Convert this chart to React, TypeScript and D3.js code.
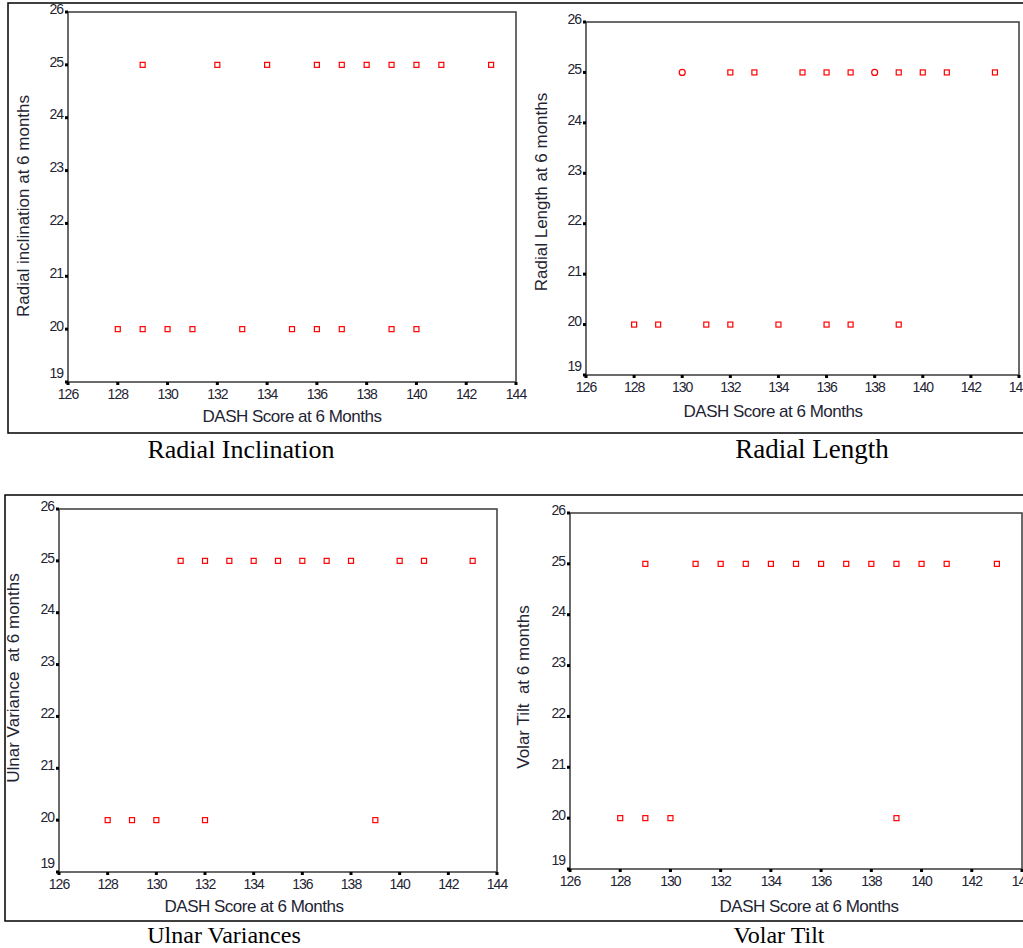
import React from "react";
import * as d3 from "d3";

// ---------- data ----------
const xTickValues = [126, 128, 130, 132, 134, 136, 138, 140, 142, 144];
const yTickValues = [19, 20, 21, 22, 23, 24, 25, 26];

const radialInclinationDash = [129, 132, 134, 136, 137, 138, 139, 140, 141, 143, 128, 129, 130, 131, 133, 135, 136, 137, 139, 140];
const radialInclinationValue = [25, 25, 25, 25, 25, 25, 25, 25, 25, 25, 20, 20, 20, 20, 20, 20, 20, 20, 20, 20];

const radialLengthDash = [130, 132, 133, 135, 136, 137, 138, 139, 140, 141, 143, 128, 129, 131, 132, 134, 136, 137, 139];
const radialLengthValue = [25, 25, 25, 25, 25, 25, 25, 25, 25, 25, 25, 20, 20, 20, 20, 20, 20, 20, 20];
const radialLengthShape = ["circle", "square", "square", "square", "square", "square", "circle", "square", "square", "square", "square", "square", "square", "square", "square", "square", "square", "square", "square"];

const ulnarVarianceDash = [131, 132, 133, 134, 135, 136, 137, 138, 140, 141, 143, 128, 129, 130, 132, 139];
const ulnarVarianceValue = [25, 25, 25, 25, 25, 25, 25, 25, 25, 25, 25, 20, 20, 20, 20, 20];

const volarTiltDash = [129, 131, 132, 133, 134, 135, 136, 137, 138, 139, 140, 141, 143, 128, 129, 130, 139];
const volarTiltValue = [25, 25, 25, 25, 25, 25, 25, 25, 25, 25, 25, 25, 25, 20, 20, 20, 20];

const xTitle = "DASH Score at 6 Months";
const yTitles = ["Radial inclination at 6 months", "Radial Length at 6 months", "Ulnar Variance  at 6 months", "Volar Tilt  at 6 months"];
const captions = ["Radial Inclination", "Radial Length", "Ulnar Variances", "Volar Tilt"];

// ---------- layout ----------
const panels = [
  { dash: radialInclinationDash, value: radialInclinationValue, shape: null as string[] | null,
    x0: 68, x1: 516, y0: 12, y1: 382, ytx: 25, yty: 206, xtx: 292, xty: 418,
    cap: { x: 241, y: 458, size: 26 } },
  { dash: radialLengthDash, value: radialLengthValue, shape: radialLengthShape,
    x0: 586, x1: 1019, y0: 22, y1: 375, ytx: 543, yty: 192, xtx: 773, xty: 413,
    cap: { x: 812, y: 458, size: 27 } },
  { dash: ulnarVarianceDash, value: ulnarVarianceValue, shape: null,
    x0: 59, x1: 497, y0: 509, y1: 872, ytx: 15, yty: 678, xtx: 254, xty: 908,
    cap: { x: 224, y: 943, size: 24 } },
  { dash: volarTiltDash, value: volarTiltValue, shape: null,
    x0: 570, x1: 1022, y0: 513, y1: 869, ytx: 525, yty: 687, xtx: 809, xty: 908,
    cap: { x: 779, y: 943, size: 24 } },
];

const AX = "#3a3a3a";
const TXT = "#1e2433";
const RED = "#ff0000";
const SANS = "Arial, 'Liberation Sans', sans-serif";
const SERIF = "'Times New Roman', 'Liberation Serif', serif";

function Panel({ p, i }: { p: typeof panels[number]; i: number }) {
  const x = d3.scaleLinear().domain([126, 144]).range([p.x0, p.x1]);
  const y = d3.scaleLinear().domain([19, 26]).range([p.y1, p.y0]);
  return (
    <g>
      <rect x={p.x0} y={p.y0} width={p.x1 - p.x0} height={p.y1 - p.y0} fill="none" stroke={AX} strokeWidth={1.5} />
      {yTickValues.map((t) => (
        <g key={"y" + t}>
          <rect x={p.x0 - 3} y={y(t) - 1.5} width={3} height={3} fill="#000" />
          <text x={p.x0 - 5} y={y(t) - (t === 19 ? 8 : 2)} textAnchor="end" dominantBaseline="middle"
            fontFamily={SANS} fontSize={14} letterSpacing={-1} fill={TXT}>{t}</text>
        </g>
      ))}
      {xTickValues.map((t) => (
        <g key={"x" + t}>
          <rect x={x(t) - 1.5} y={p.y1} width={3} height={3} fill="#000" />
          <text x={x(t)} y={p.y1 + 17} textAnchor="middle" fontFamily={SANS} fontSize={14} letterSpacing={-1} fill={TXT}>{t}</text>
        </g>
      ))}
      {p.dash.map((d, k) => {
        const cx = x(d), cy = y(p.value[k]);
        const shp = p.shape ? p.shape[k] : "square";
        return shp === "circle" ? (
          <circle key={k} cx={cx} cy={cy} r={3} fill="none" stroke={RED} strokeWidth={1.2} />
        ) : (
          <rect key={k} x={cx - 2.5} y={cy - 2.5} width={5} height={5} fill="none" stroke={RED} strokeWidth={1.2} />
        );
      })}
      <text x={p.xtx} y={p.xty} textAnchor="middle" dominantBaseline="middle" fontFamily={SANS} fontSize={17} letterSpacing={-0.5} fill={TXT}>{xTitle}</text>
      <text transform={`translate(${p.ytx},${p.yty}) rotate(-90)`} textAnchor="middle" dominantBaseline="middle"
        fontFamily={SANS} fontSize={17} letterSpacing={0} fill={TXT} style={{ whiteSpace: "pre" }}>{yTitles[i]}</text>
      <text x={p.cap.x} y={p.cap.y} textAnchor="middle" fontFamily={SERIF} fontSize={p.cap.size} fill="#000">{captions[i]}</text>
    </g>
  );
}

export default function App() {
  return (
    <svg width={1023} height={948} style={{ position: "absolute", left: 0, top: 0, background: "#fff" }}>
      <rect x={0} y={0} width={1023} height={948} fill="#fff" />
      <rect x={8} y={3} width={1040} height={430} fill="none" stroke="#000" strokeWidth={1.5} />
      <rect x={5} y={495} width={1040} height={426} fill="none" stroke="#000" strokeWidth={1.5} />
      {panels.map((p, i) => <Panel key={i} p={p} i={i} />)}
    </svg>
  );
}
